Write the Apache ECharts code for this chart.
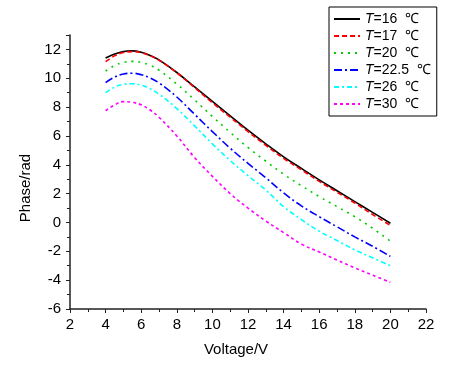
<!DOCTYPE html>
<html>
<head>
<meta charset="utf-8">
<script src="https://cdn.jsdelivr.net/npm/echarts@6/dist/echarts.min.js"></script>
<style>
  html, body { margin: 0; padding: 0; background: #fff; }
  #chart { width: 450px; height: 375px; }
</style>
</head>
<body>
<div id="chart"></div>
<script>
// voltage (V)
const voltage = [4, 4.5, 5, 5.5, 6, 6.5, 7, 8, 9, 10, 11, 12, 13, 14, 15, 16, 17, 18, 19, 20]

// phase (rad), one array per temperature
const t16   = [11.4, 11.68, 11.86, 11.9, 11.8, 11.58, 11.27, 10.4, 9.4, 8.4, 7.4, 6.4, 5.45, 4.55, 3.75, 2.95, 2.2, 1.45, 0.7, -0.05]
const t17   = [11.15, 11.55, 11.78, 11.85, 11.78, 11.56, 11.25, 10.38, 9.35, 8.3, 7.3, 6.3, 5.35, 4.45, 3.65, 2.85, 2.1, 1.35, 0.55, -0.2]
const t20   = [10.5, 10.88, 11.1, 11.17, 11.1, 10.9, 10.56, 9.6, 8.5, 7.35, 6.25, 5.2, 4.25, 3.35, 2.55, 1.8, 1.1, 0.4, -0.4, -1.3]
const t22_5 = [9.7, 10.08, 10.3, 10.35, 10.25, 10.02, 9.68, 8.7, 7.5, 6.3, 5.15, 4.1, 3.1, 2.05, 1.15, 0.4, -0.3, -1.0, -1.65, -2.35]
const t26   = [9.0, 9.38, 9.58, 9.62, 9.52, 9.28, 8.9, 7.9, 6.7, 5.45, 4.3, 3.25, 2.25, 1.1, 0.2, -0.6, -1.25, -1.9, -2.45, -3.0]
const t30   = [7.75, 8.15, 8.38, 8.33, 8.16, 7.8, 7.3, 6.0, 4.5, 3.2, 2.0, 1.0, 0.1, -0.7, -1.5, -2.05, -2.6, -3.15, -3.65, -4.15]

const temps = ['16', '17', '20', '22.5', '26', '30']
const values = [t16, t17, t20, t22_5, t26, t30]

const colors = ['#000000', '#ff0000', '#00cc00', '#0000ff', '#00ffff', '#ff00ff']
const dashes = ['solid', [5, 3], [2, 5], [8, 3, 2, 3], [5, 3, 2, 3], [3, 3]]

const font = 'Liberation Sans, Arial, sans-serif'
const chart = echarts.init(document.getElementById('chart'))

const series = temps.map((t, i) => ({
  name: 'T=' + t,
  type: 'line',
  data: voltage.map((v, k) => [v, values[i][k]]),
  smooth: 0.4,
  symbol: 'none',
  lineStyle: { color: colors[i], width: 1.6, type: dashes[i] },
  itemStyle: { color: colors[i] }
}))

chart.setOption({
  animation: false,
  textStyle: { fontFamily: font },
  grid: { left: 70, right: 24, top: 35, bottom: 66, containLabel: false },
  legend: {
    orient: 'vertical',
    left: 329,
    top: 7,
    padding: [5, 6, 5, 4],
    borderColor: '#000',
    borderWidth: 1,
    itemWidth: 26,
    itemHeight: 14,
    itemGap: 3,
    itemStyle: { opacity: 0 },
    data: temps.map(t => 'T=' + t),
    formatter: name => '{i|T}=' + name.slice(2) + '  ℃',
    textStyle: {
      fontSize: 14,
      color: '#000',
      fontFamily: font,
      rich: { i: { fontStyle: 'italic', fontSize: 14, fontFamily: font, color: '#000' } }
    }
  },
  xAxis: {
    type: 'value',
    min: 2, max: 22, interval: 2,
    name: 'Voltage/V',
    nameLocation: 'middle',
    nameGap: 33,
    nameTextStyle: { fontSize: 15, color: '#000', padding: [0, 24, 0, 0] },
    axisLine: { onZero: false, lineStyle: { color: '#222', width: 1.5 } },
    axisTick: { length: 4, lineStyle: { color: '#222' } },
    minorTick: { show: true, splitNumber: 2, length: 3, lineStyle: { color: '#222' } },
    splitLine: { show: false },
    axisLabel: { fontSize: 15, color: '#000', margin: 8 }
  },
  yAxis: {
    type: 'value',
    min: -6, max: 13, interval: 2,
    name: 'Phase/rad',
    nameLocation: 'middle',
    nameGap: 37,
    nameTextStyle: { fontSize: 15, color: '#000', padding: [0, 32, 0, 0] },
    axisLine: { show: true, onZero: false, lineStyle: { color: '#222', width: 1.5 } },
    axisTick: { show: true, length: 4, lineStyle: { color: '#222' } },
    minorTick: { show: true, splitNumber: 2, length: 3, lineStyle: { color: '#222' } },
    splitLine: { show: false },
    axisLabel: {
      fontSize: 15, color: '#000', margin: 9,
      formatter: v => (v > 12 ? '' : String(v))
    }
  },
  series: series
})
</script>
</body>
</html>
